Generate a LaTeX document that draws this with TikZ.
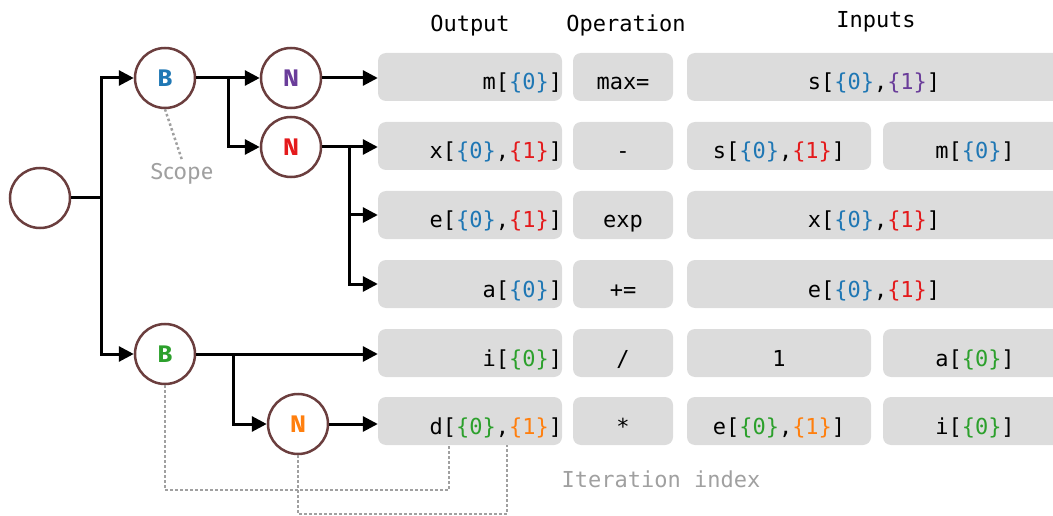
\documentclass[tikz,border=0pt]{standalone}
\usepackage{fontspec}
\setmonofont{DejaVu Sans Mono}
\setsansfont{Fira Sans}
\usetikzlibrary{arrows.meta, positioning}

\definecolor{idxblue}{HTML}{1F77B4}
\definecolor{idxred}{HTML}{E41A1C}
\definecolor{idxpurple}{HTML}{6A3D9A}
\definecolor{idxgreen}{HTML}{2CA02C}
\definecolor{idxorange}{HTML}{FF7F0E}
\definecolor{loopbrown}{HTML}{6B3E3E}
\definecolor{cellgray}{HTML}{DCDCDC}
\definecolor{notegray}{HTML}{A0A0A0}

\newcommand{\ix}[2]{\textcolor{#1}{\{#2\}}}

\begin{document}
\begin{tikzpicture}[x=1pt, y=-1pt,
                    every node/.style={font=\ttfamily\fontsize{22}{26}\selectfont},
                    loopnode/.style={circle, draw=loopbrown, line width=2.5pt, minimum size=60pt, inner sep=0pt,
                                     font=\sffamily\bfseries\fontsize{24}{28}\selectfont},
                    cell/.style={rectangle, rounded corners=8pt, fill=cellgray, inner xsep=0pt, inner ysep=0pt,
                                 text height=37pt, text depth=11pt},
                    outcell/.style={cell, text width=184pt, align=right},
                    opcell/.style={cell, text width=100pt, align=center},
                    fullcell/.style={cell, text width=374pt, align=center},
                    halfcell/.style={cell, text width=184pt, align=center},
                    flow/.style={line width=3pt, -{Triangle[length=15pt,width=15pt]}},
                    idx/.style={notegray, line width=2.5pt, dash pattern=on 2.5pt off 2.5pt},
                    note/.style={text=notegray}]

\useasboundingbox (0,0) rectangle (1053,516);
\clip (0,0) rectangle (1053,516);

% Headers
\node (hout) [anchor=base] at (470,32) {Output};
\node (hop) [anchor=base] at (626,32) {Operation};
\node (hin) [anchor=base] at (876,28) {Inputs};

% Loop tree
\node (root) [loopnode] at (40,198) {};
\node (b1) [loopnode, text=idxblue] at (165,78) {B};
\node (n1) [loopnode, text=idxpurple] at (291,78) {N};
\node (n2) [loopnode, text=idxred] at (291,147) {N};
\node (b2) [loopnode, text=idxgreen] at (165,354) {B};
\node (n3) [loopnode, text=idxorange] at (298,424) {N};

% Output cells
\node (o1) [outcell] at (470,77) {m[\ix{idxblue}{0}]};
\node (o2) [outcell] at (470,146) {x[\ix{idxblue}{0},\ix{idxred}{1}]};
\node (o3) [outcell] at (470,215) {e[\ix{idxblue}{0},\ix{idxred}{1}]};
\node (o4) [outcell] at (470,284) {a[\ix{idxblue}{0}]};
\node (o5) [outcell] at (470,353) {i[\ix{idxgreen}{0}]};
\node (o6) [outcell] at (470,421) {d[\ix{idxgreen}{0},\ix{idxorange}{1}]};

% Operation cells
\node (p1) [opcell] at (623,77) {max=};
\node (p2) [opcell] at (623,146) {-};
\node (p3) [opcell] at (623,215) {exp};
\node (p4) [opcell] at (623,284) {+=};
\node (p5) [opcell] at (623,353) {/};
\node (p6) [opcell] at (623,421) {*};

% Input cells
\node (i1) [fullcell] at (874,77) {s[\ix{idxblue}{0},\ix{idxpurple}{1}]};
\node (i2a) [halfcell] at (779,146) {s[\ix{idxblue}{0},\ix{idxred}{1}]};
\node (i2b) [halfcell] at (975,146) {m[\ix{idxblue}{0}]};
\node (i3) [fullcell] at (874,215) {x[\ix{idxblue}{0},\ix{idxred}{1}]};
\node (i4) [fullcell] at (874,284) {e[\ix{idxblue}{0},\ix{idxred}{1}]};
\node (i5a) [halfcell] at (779,353) {1};
\node (i5b) [halfcell] at (975,353) {a[\ix{idxgreen}{0}]};
\node (i6a) [halfcell] at (779,421) {e[\ix{idxgreen}{0},\ix{idxorange}{1}]};
\node (i6b) [halfcell] at (975,421) {i[\ix{idxgreen}{0}]};

% Notes
\node (scopelbl) [note, font=\sffamily\fontsize{23}{27}\selectfont] at (182,174) {Scope};
\node (itlbl) [note, anchor=base] at (661,487) {Iteration index};

% Edges
\coordinate (t0) at (101,0);
\coordinate (t1) at (228,0);
\coordinate (t2) at (349,0);
\coordinate (t3) at (233,0);
\draw[flow] (root.east) -- (root.east -| t0) |- (b1.west);
\draw[flow] (root.east -| t0) |- (b2.west);
\draw[flow] (b1.east) -- (n1.west);
\draw[flow] (b1.east -| t1) |- (n2.west);
\draw[flow] (n1.east) -- (n1.east -| o1.west);
\draw[flow] (n2.east) -- (n2.east -| o2.west);
\draw[flow] (n2.east -| t2) |- (o3.west);
\draw[flow] (n2.east -| t2) |- (o4.west);
\draw[flow] (b2.east) -- (b2.east -| o5.west);
\draw[flow] (b2.east -| t3) |- (n3.west);
\draw[flow] (n3.east) -- (n3.east -| o6.west);

% Index links
\coordinate (k0) at (449,490);
\coordinate (k1) at (507,514);
\draw[idx] (b1.south) -- (scopelbl.north);
\draw[idx] (b2.south) |- (k0) -- (k0 |- o6.south);
\draw[idx] (n3.south) |- (k1) -- (k1 |- o6.south);

\end{tikzpicture}
\end{document}
